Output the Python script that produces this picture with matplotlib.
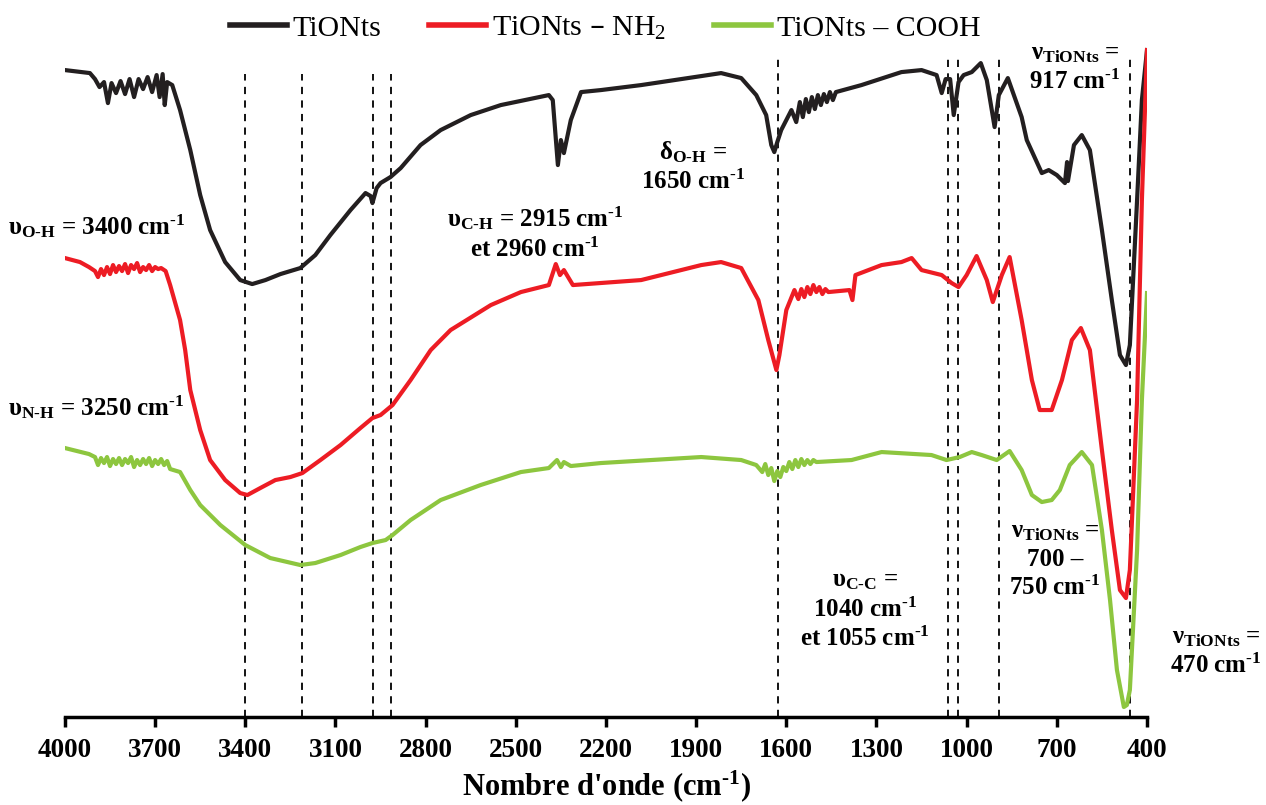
import numpy as np
import matplotlib
matplotlib.use("Agg")
import matplotlib.pyplot as plt

plt.rcParams['font.family'] = ['Liberation Serif', 'DejaVu Serif']
plt.rcParams['mathtext.default'] = 'regular'

# wavenumbers (cm-1) and transmittance (a.u.)
wn_tio = [4000, 3917, 3900, 3885, 3870, 3857, 3845, 3830, 3815, 3800, 3785, 3770, 3755, 3740,
          3725, 3710, 3695, 3685, 3675, 3668, 3660, 3643, 3617, 3583, 3550, 3517, 3467, 3417,
          3377, 3333, 3283, 3217, 3167, 3117, 3050, 3000, 2983, 2977, 2963, 2950, 2917, 2883,
          2817, 2750, 2650, 2550, 2390, 2377, 2360, 2350, 2340, 2317, 2283, 2217, 2083, 1883,
          1817, 1750, 1700, 1667, 1650, 1640, 1630, 1617, 1583, 1567, 1555, 1545, 1535, 1525,
          1515, 1505, 1495, 1485, 1475, 1465, 1455, 1445, 1435, 1350, 1217, 1150, 1100, 1083,
          1070, 1055, 1043, 1027, 1010, 983, 953, 933, 907, 893, 863, 817, 800, 750, 727, 700,
          673, 666, 663, 643, 617, 590, 550, 517, 490, 470, 457, 433, 417, 400]
t_tio = [64.7, 64.4, 63.8, 63.0, 63.5, 61.4, 63.4, 62.4, 63.6, 62.3, 63.8, 62.0, 63.8, 62.8,
         64.0, 62.5, 64.2, 62.0, 64.3, 61.2, 63.5, 63.2, 60.7, 56.7, 52.2, 48.7, 45.5, 43.7,
         43.3, 43.7, 44.3, 44.9, 46.2, 48.2, 50.7, 52.4, 52.1, 51.4, 52.9, 53.4, 54.0, 54.9,
         57.2, 58.7, 60.2, 61.2, 62.2, 61.7, 55.2, 57.7, 56.4, 59.7, 62.5, 62.7, 63.2, 64.1,
         64.4, 63.9, 62.2, 60.2, 57.2, 56.5, 57.5, 58.7, 60.7, 59.5, 61.5, 60.0, 61.8, 60.5,
         62.0, 60.8, 62.2, 61.2, 62.3, 61.5, 62.5, 61.7, 62.5, 63.2, 64.5, 64.7, 64.2, 62.4,
         63.8, 63.8, 60.2, 63.5, 64.2, 64.5, 65.4, 63.7, 59.0, 62.2, 63.9, 60.0, 57.7, 54.4,
         54.7, 54.2, 53.4, 55.5, 53.6, 57.2, 58.2, 56.7, 48.7, 41.7, 36.2, 35.2, 37.2, 51.7,
         61.7, 66.7]

wn_nh2 = [4000, 3950, 3920, 3900, 3890, 3880, 3870, 3860, 3850, 3840, 3830, 3820, 3810, 3800,
          3790, 3780, 3770, 3760, 3750, 3740, 3730, 3720, 3710, 3700, 3690, 3680, 3665, 3650,
          3617, 3600, 3583, 3550, 3517, 3467, 3417, 3393, 3350, 3300, 3250, 3210, 3150, 3083,
          3017, 2977, 2950, 2910, 2850, 2783, 2717, 2583, 2483, 2390, 2367, 2353, 2340, 2310,
          2083, 1883, 1817, 1750, 1693, 1660, 1633, 1623, 1600, 1573, 1560, 1550, 1540, 1530,
          1520, 1510, 1500, 1490, 1480, 1470, 1460, 1390, 1380, 1370, 1283, 1217, 1183, 1150,
          1083, 1050, 1027, 1000, 967, 933, 913, 883, 857, 817, 783, 757, 717, 683, 650, 620,
          590, 550, 517, 490, 470, 457, 433, 417, 400]
t_nh2 = [45.9, 45.5, 45.0, 44.6, 44.0, 44.8, 44.2, 45.0, 44.3, 45.2, 44.5, 45.1, 44.6, 45.3,
         44.4, 45.2, 44.8, 45.4, 44.5, 45.0, 44.7, 45.2, 44.6, 45.0, 44.8, 44.9, 44.6, 43.2,
         39.7, 36.7, 32.7, 28.7, 25.7, 23.7, 22.4, 22.2, 22.9, 23.7, 24.0, 24.4, 25.7, 27.2,
         28.9, 29.9, 30.2, 31.2, 33.7, 36.7, 38.7, 41.2, 42.5, 43.2, 45.3, 44.2, 44.7, 43.2,
         43.7, 45.2, 45.5, 44.9, 41.7, 37.7, 34.7, 36.2, 40.7, 42.7, 41.8, 42.8, 42.0, 43.0,
         42.3, 43.2, 42.5, 43.0, 42.3, 42.8, 42.5, 42.7, 41.7, 44.2, 45.2, 45.5, 45.9, 44.7,
         44.2, 43.4, 43.0, 44.2, 46.1, 43.7, 41.5, 44.2, 46.0, 39.7, 33.7, 30.7, 30.7, 33.7,
         37.7, 38.9, 36.7, 26.7, 18.7, 12.7, 11.9, 14.7, 31.7, 51.7, 66.7]

wn_cooh = [4000, 3920, 3900, 3890, 3880, 3870, 3860, 3850, 3840, 3830, 3820, 3810, 3800, 3790,
           3780, 3770, 3760, 3750, 3740, 3730, 3720, 3710, 3700, 3690, 3680, 3670, 3660, 3650,
           3617, 3583, 3550, 3483, 3400, 3317, 3217, 3167, 3083, 3017, 2977, 2933, 2910, 2850,
           2750, 2617, 2483, 2390, 2363, 2350, 2340, 2317, 2217, 1883, 1750, 1700, 1680, 1670,
           1660, 1650, 1640, 1630, 1620, 1610, 1600, 1590, 1580, 1570, 1560, 1550, 1540, 1530,
           1520, 1510, 1500, 1383, 1283, 1117, 1067, 1023, 983, 950, 900, 857, 817, 783, 750,
           717, 690, 657, 617, 583, 550, 523, 500, 477, 467, 457, 433, 417, 400]
t_cooh = [26.9, 26.3, 26.0, 25.2, 25.9, 25.4, 26.0, 25.1, 25.8, 25.3, 25.9, 25.2, 25.8, 25.4,
          26.0, 25.0, 25.7, 25.2, 25.8, 25.3, 25.9, 25.1, 25.7, 25.3, 25.8, 25.2, 25.6, 24.8,
          24.5, 22.7, 21.2, 19.2, 17.2, 15.9, 15.2, 15.4, 16.2, 17.0, 17.4, 17.7, 18.2, 19.7,
          21.7, 23.2, 24.5, 24.9, 25.7, 25.0, 25.5, 25.1, 25.4, 26.0, 25.7, 25.2, 24.5, 25.3,
          24.2, 24.9, 23.6, 24.6, 24.0, 25.0, 24.6, 25.5, 24.8, 25.7, 25.0, 25.8, 25.2, 25.7,
          25.3, 25.7, 25.5, 25.7, 26.5, 26.2, 25.7, 26.0, 26.5, 26.2, 25.7, 26.6, 24.7, 22.2,
          21.5, 21.7, 22.7, 25.2, 26.5, 25.2, 18.7, 11.7, 4.7, 1.0, 1.2, 2.7, 16.7, 31.7, 42.4]

# marked bands: wavenumber and top of the dashed line
band_wn = [3400, 3210, 2975, 2915, 1627, 1063, 1030, 893, 457]
band_top = [64.3, 64.3, 64.3, 64.3, 65.9, 65.9, 65.9, 65.9, 66.0]

ticks = [4000, 3700, 3400, 3100, 2800, 2500, 2200, 1900, 1600, 1300, 1000, 700, 400]

HY = '\u2010'  # hyphen, so mathtext does not turn it into a minus sign

fig = plt.figure(figsize=(12.66, 8.05), dpi=100)
ax = fig.add_axes([0.0513, 0.1093, 0.8547, 0.8347])

ax.plot(wn_tio, t_tio, color='#231f20', lw=3, label='TiONts')
ax.plot(wn_nh2, t_nh2, color='#ed1c24', lw=3, label='TiONts – NH$_2$')
ax.plot(wn_cooh, t_cooh, color='#8dc63f', lw=3, label='TiONts – COOH')

for w, top in zip(band_wn, band_top):
    ax.plot([w, w], [0, top], color='black', lw=1.3, ls=(0, (4, 3.5)), zorder=0)

ax.set_xlim(4000, 400)
ax.set_ylim(0, 67.2)
ax.set_xticks(ticks)
ax.set_xticklabels([str(t) for t in ticks], fontsize=19.5, fontweight='bold')
ax.set_yticks([])
for s in ['left', 'right', 'top']:
    ax.spines[s].set_visible(False)
ax.spines['bottom'].set_linewidth(2.5)
ax.tick_params(axis='x', direction='out', length=7, width=2.5, pad=8)
cm = 'cm$^{' + HY + '1}$'
ax.set_xlabel("Nombre d'onde (" + cm + ")", fontsize=22, fontweight='bold', labelpad=4)

leg = fig.legend(loc='center', bbox_to_anchor=(0.478, 0.965), ncol=3, frameon=False,
                 fontsize=21.5, handlelength=1.9, handletextpad=0.2, columnspacing=1.6)
for h in leg.legend_handles:
    h.set_linewidth(4)

def lab(x, y, s, ha='center'):
    fig.text(x / 1266, 1 - y / 805, s, ha=ha, va='center', fontsize=18,
             fontweight='bold', linespacing=1.25)

lab(8, 226, 'υ$_{O' + HY + 'H}$ = 3400 ' + cm, ha='left')
lab(8, 407, 'υ$_{N' + HY + 'H}$ = 3250 ' + cm, ha='left')
lab(535, 233, 'υ$_{C' + HY + 'H}$ = 2915 ' + cm + '\net 2960 ' + cm)
lab(693, 167, 'δ$_{O' + HY + 'H}$ =\n1650 ' + cm)
lab(1075, 68, 'ν$_{TiONts}$ =\n917 ' + cm)
lab(865, 610, 'υ$_{C' + HY + 'C}$ =\n1040 ' + cm + '\net 1055 ' + cm)
lab(1055, 560, 'ν$_{TiONts}$ =\n700 –\n750 ' + cm)
lab(1216, 652, 'ν$_{TiONts}$ =\n470 ' + cm)

fig.savefig('out.png', dpi=100)
